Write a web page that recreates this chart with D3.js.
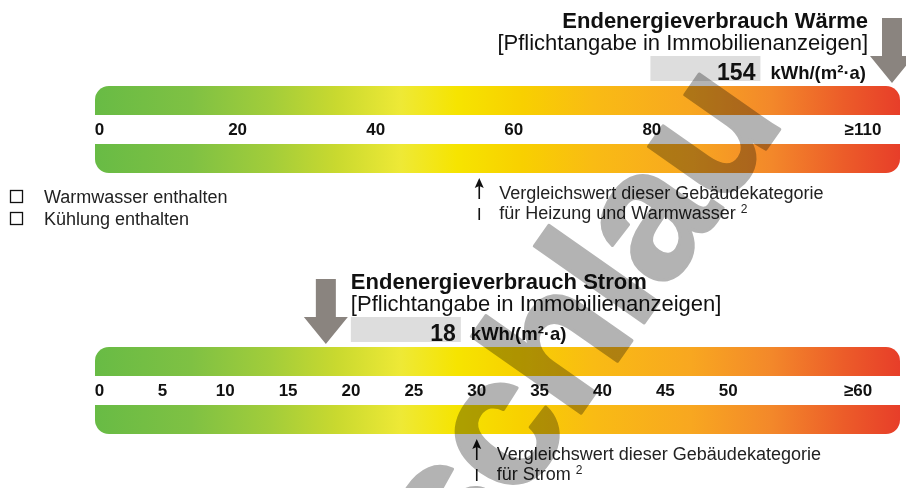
<!DOCTYPE html>
<html>
<head>
<meta charset="utf-8">
<script src="https://cdn.jsdelivr.net/npm/d3@7"></script>
<style>
  html, body { margin: 0; padding: 0; background: #fff; }
  svg { display: block; }
</style>
</head>
<body>
<svg id="chart" width="906" height="488"></svg>
<script>
// Heating scale: ticks, labels, measured and reference value (kWh/(m²·a))
const heatTicks = [0, 20, 40, 60, 80, 110];
const heatTickLabels = ["0", "20", "40", "60", "80", "≥110"];
const heatValue = 154;
const heatReference = 55;

// Electricity scale
const powerTicks = [0, 5, 10, 15, 20, 25, 30, 35, 40, 45, 50, 60];
const powerTickLabels = ["0", "5", "10", "15", "20", "25", "30", "35", "40", "45", "50", "≥60"];
const powerValue = 18;
const powerReference = 30;

const unitLabel = "kWh/(m²·a)";
const legendItems = ["Warmwasser enthalten", "Kühlung enthalten"];

const FONT = "'Liberation Sans', Arial, Helvetica, sans-serif";
const svg = d3.select("#chart");

// colour ramp shared by all bars
const rampStops = [
  [0.00, "#68bb45"], [0.12, "#7fc143"], [0.22, "#a3cd3a"], [0.30, "#c9d92f"],
  [0.38, "#eee936"], [0.45, "#f6e400"], [0.53, "#f8d000"], [0.62, "#f9bb14"],
  [0.74, "#f8a720"], [0.84, "#f3882a"], [0.93, "#ec5c29"], [1.00, "#e73e29"]
];
const BAR_X0 = 95, BAR_X1 = 900, BAR_H = 29, BAND = 29, R = 14;

const grad = svg.append("defs").append("linearGradient")
  .attr("id", "ramp").attr("gradientUnits", "userSpaceOnUse")
  .attr("x1", BAR_X0).attr("x2", BAR_X1).attr("y1", 0).attr("y2", 0);
grad.selectAll("stop").data(rampStops).join("stop")
  .attr("offset", d => d[0]).attr("stop-color", d => d[1]);

function upperBar(y) {
  return `M${BAR_X0},${y + BAR_H} L${BAR_X0},${y + R} A${R},${R} 0 0 1 ${BAR_X0 + R},${y}` +
         ` L${BAR_X1 - R},${y} A${R},${R} 0 0 1 ${BAR_X1},${y + R} L${BAR_X1},${y + BAR_H} Z`;
}
function lowerBar(y) {
  return `M${BAR_X0},${y} L${BAR_X1},${y} L${BAR_X1},${y + BAR_H - R}` +
         ` A${R},${R} 0 0 1 ${BAR_X1 - R},${y + BAR_H} L${BAR_X0 + R},${y + BAR_H}` +
         ` A${R},${R} 0 0 1 ${BAR_X0},${y + BAR_H - R} Z`;
}

function drawPanel(cfg) {
  const g = svg.append("g");
  const top = cfg.top;
  const lowerTop = top + BAR_H + BAND;
  const x = d3.scaleLinear().domain([0, cfg.ticks[cfg.ticks.length - 1]]).range([99.5, cfg.rangeEnd]);

  g.append("path").attr("d", upperBar(top)).attr("fill", "url(#ramp)");
  g.append("path").attr("d", lowerBar(lowerTop)).attr("fill", "url(#ramp)");

  // tick labels in the white band between the bars
  const last = cfg.ticks.length - 1;
  g.selectAll("text.tick").data(cfg.ticks).join("text")
    .attr("class", "tick")
    .attr("x", (d, i) => x(d) + (i === last ? 4 : 0))
    .attr("y", top + BAR_H + 20)
    .attr("text-anchor", "middle")
    .attr("font-family", FONT).attr("font-weight", "bold").attr("font-size", 17)
    .attr("fill", "#111")
    .text((d, i) => cfg.labels[i]);

  // measured value marker (clamped to the bar end)
  const ax = Math.min(x(cfg.value), BAR_X1 - 8);
  const sw = 10, hw = 22;
  const sTop = top - 68, hTop = top - 30, tip = top - 3;
  g.append("path")
    .attr("d", `M${ax - sw},${sTop} L${ax + sw},${sTop} L${ax + sw},${hTop} L${ax + hw},${hTop}` +
               ` L${ax},${tip} L${ax - hw},${hTop} L${ax - sw},${hTop} Z`)
    .attr("fill", "#8a847f");

  // value box, number and unit
  const boxW = 110, boxTop = top - 30, boxH = 25;
  const unit = g.append("text")
    .attr("y", top - 7)
    .attr("font-family", FONT).attr("font-weight", "bold").attr("font-size", 18.5)
    .attr("fill", "#111").text(unitLabel);
  const unitW = unit.node().getComputedTextLength();
  let boxX, titleX, anchor;
  if (cfg.labelSide === "left") {
    const right = ax - 26;
    unit.attr("x", right - unitW);
    boxX = right - unitW - 10 - boxW;
    titleX = right + 2; anchor = "end";
  } else {
    boxX = ax + 25;
    unit.attr("x", boxX + boxW + 10);
    titleX = boxX; anchor = "start";
  }
  g.insert("rect", "text")
    .attr("x", boxX).attr("y", boxTop).attr("width", boxW).attr("height", boxH)
    .attr("fill", "#dddddd");
  g.append("text")
    .attr("x", boxX + boxW - 5).attr("y", top - 6)
    .attr("text-anchor", "end")
    .attr("font-family", FONT).attr("font-weight", "bold").attr("font-size", 23)
    .attr("fill", "#111").text(cfg.value);

  g.append("text")
    .attr("x", titleX).attr("y", top - 58).attr("text-anchor", anchor)
    .attr("font-family", FONT).attr("font-weight", "bold").attr("font-size", 22)
    .attr("fill", "#111").text(cfg.title);
  g.append("text")
    .attr("x", titleX).attr("y", top - 36).attr("text-anchor", anchor)
    .attr("font-family", FONT).attr("font-size", 22)
    .attr("fill", "#111").text("[Pflichtangabe in Immobilienanzeigen]");

  // reference value arrow below the bars
  const rx = x(cfg.reference);
  const rTip = lowerTop + BAR_H + 5;
  g.append("path")
    .attr("d", `M${rx},${rTip} L${rx + 4.5},${rTip + 10} L${rx},${rTip + 8} L${rx - 4.5},${rTip + 10} Z`)
    .attr("fill", "#111");
  g.append("line").attr("x1", rx).attr("x2", rx).attr("y1", rTip + 6).attr("y2", rTip + 21)
    .attr("stroke", "#111").attr("stroke-width", 1.6);
  g.append("line").attr("x1", rx).attr("x2", rx).attr("y1", rTip + 30).attr("y2", rTip + 42)
    .attr("stroke", "#111").attr("stroke-width", 1.6);

  const note = g.append("text")
    .attr("font-family", FONT).attr("font-size", 18).attr("fill", "#222");
  note.append("tspan").attr("x", rx + 20).attr("y", rTip + 21)
    .text("Vergleichswert dieser Gebäudekategorie");
  note.append("tspan").attr("x", rx + 20).attr("y", rTip + 41)
    .text(cfg.refText + " ");
  note.append("tspan").attr("font-size", 12).attr("dy", -6).text("2");
}

drawPanel({
  top: 86, ticks: heatTicks, labels: heatTickLabels, rangeEnd: 859,
  value: heatValue, reference: heatReference, labelSide: "left",
  title: "Endenergieverbrauch Wärme", refText: "für Heizung und Warmwasser"
});
drawPanel({
  top: 347, ticks: powerTicks, labels: powerTickLabels, rangeEnd: 854,
  value: powerValue, reference: powerReference, labelSide: "right",
  title: "Endenergieverbrauch Strom", refText: "für Strom"
});

// checkbox legend
const legend = svg.append("g");
legend.selectAll("rect").data(legendItems).join("rect")
  .attr("x", 10.5).attr("y", (d, i) => 190.5 + i * 22)
  .attr("width", 12).attr("height", 12)
  .attr("fill", "none").attr("stroke", "#111").attr("stroke-width", 1.3);
legend.selectAll("text").data(legendItems).join("text")
  .attr("x", 44).attr("y", (d, i) => 203 + i * 21.5)
  .attr("font-family", FONT).attr("font-size", 18).attr("fill", "#222")
  .text(d => d);

// diagonal watermark
svg.append("text")
  .attr("transform", "translate(785,122) rotate(-55)")
  .attr("text-anchor", "end")
  .attr("font-family", FONT).attr("font-weight", "bold").attr("font-size", 185)
  .attr("letter-spacing", -3)
  .attr("fill", "#b3b3b3").attr("stroke", "#b3b3b3").attr("stroke-width", 3)
  .attr("stroke-linejoin", "round")
  .style("mix-blend-mode", "multiply")
  .text("schlau");
</script>
</body>
</html>
